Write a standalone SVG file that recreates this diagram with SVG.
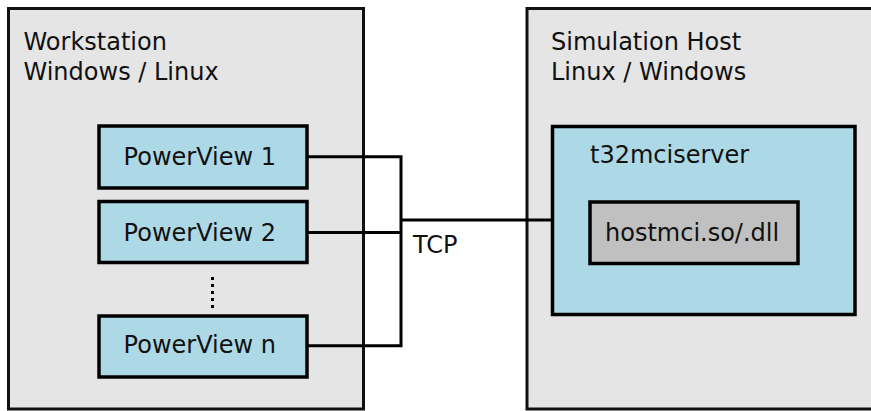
<svg xmlns="http://www.w3.org/2000/svg" width="871" height="411" viewBox="0 0 871 411">
<style>
text{font-family:"DejaVu Sans","Liberation Sans",sans-serif;font-size:24px;fill:#111}
.host{fill:#e5e5e5;stroke:#111;stroke-width:3}
.proc{fill:#add8e6;stroke:#000;stroke-width:3.5}
.lib{fill:#c0c0c0;stroke:#000;stroke-width:3.5}
.wire{fill:none;stroke:#000;stroke-width:3}
</style>
<rect width="871" height="411" fill="#fff"/>
<g id="workstation">
<rect class="host" x="8.5" y="8.5" width="355" height="400.5"/>
<text x="23.5" y="50">Workstation</text>
<text x="23.5" y="80">Windows / Linux</text>
</g>
<g id="simhost">
<rect class="host" x="527" y="8.5" width="400" height="400.5"/>
<text x="551" y="50">Simulation Host</text>
<text x="551" y="80">Linux / Windows</text>
</g>
<g id="pv1">
<rect class="proc" x="99" y="126" width="208" height="62"/>
<text x="123.6" y="165">PowerView 1</text>
</g>
<g id="pv2">
<rect class="proc" x="99" y="201.5" width="208" height="61"/>
<text x="123.6" y="240.7">PowerView 2</text>
</g>
<g id="pvn">
<rect class="proc" x="99" y="316" width="208" height="61"/>
<text x="123.6" y="353.3">PowerView n</text>
</g>
<g id="dots">
<line x1="212.5" y1="277" x2="212.5" y2="310" stroke="#000" stroke-width="3" stroke-dasharray="3 4"/>
</g>
<g id="server">
<rect class="proc" x="552.5" y="126.5" width="302.5" height="188"/>
<text x="590" y="163">t32mciserver</text>
</g>
<g id="hostmci">
<rect class="lib" x="590" y="202" width="208" height="61.5"/>
<text x="605" y="241">hostmci.so/.dll</text>
</g>
<g id="connectors">
<polyline class="wire" points="307,156.7 401,156.7 401,345.7 307,345.7"/>
<line class="wire" x1="307" y1="232.5" x2="401" y2="232.5"/>
<line class="wire" x1="401" y1="220" x2="552.5" y2="220"/>
<text x="413" y="252.7">TCP</text>
</g>
</svg>
